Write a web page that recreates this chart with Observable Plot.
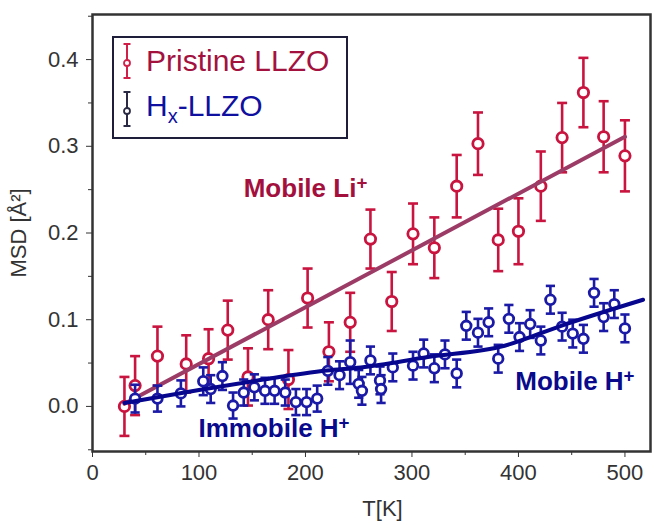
<!DOCTYPE html>
<html>
<head>
<meta charset="utf-8">
<script src="https://cdn.jsdelivr.net/npm/d3@7"></script>
<script src="https://cdn.jsdelivr.net/npm/@observablehq/plot@0.6"></script>
<style>
  body { margin: 0; background: #fff; }
  #wrap { position: relative; width: 652px; height: 521px; font-family: "Liberation Sans", Arial, sans-serif; }
  #legend { position: absolute; left: 112px; top: 36px; width: 236px; height: 103px; box-sizing: border-box;
            border: 2px solid #1e1e3a; background: #fff; }
  .lrow { position: absolute; left: 0; display: flex; align-items: center; }
  .lrow svg { margin-left: 6px; }
  .ltxt { font-size: 30px; margin-left: 12px; white-space: nowrap; }
</style>
</head>
<body>
<div id="wrap"></div>
<script>
// ---- data ----
const redT   = [30, 40, 61, 88, 109, 127, 146, 165, 184, 202, 222, 242, 261, 281, 301, 321, 342, 362, 381, 400, 421, 441, 461, 480, 500];
const redMSD = [0.000, 0.024, 0.058, 0.049, 0.055, 0.088, 0.034, 0.100, 0.031, 0.125, 0.063, 0.097, 0.193, 0.121, 0.199, 0.183, 0.254, 0.303, 0.192, 0.202, 0.254, 0.310, 0.362, 0.311, 0.289];
const redErr = [0.034, 0.034, 0.034, 0.033, 0.034, 0.034, 0.033, 0.034, 0.034, 0.034, 0.034, 0.034, 0.034, 0.034, 0.035, 0.035, 0.036, 0.036, 0.036, 0.038, 0.040, 0.040, 0.040, 0.041, 0.041];

const blueT   = [40, 61, 83, 104, 111, 122, 132, 142, 152, 162, 171, 181, 191, 201, 211, 221, 232, 242, 250, 253, 261, 270, 271, 282, 301, 311, 321, 331, 342, 351, 362, 372, 381, 391, 401, 411, 421, 430, 441, 451, 461, 471, 480, 490, 500];
const blueMSD = [0.009, 0.009, 0.015, 0.029, 0.020, 0.035, 0.001, 0.016, 0.022, 0.018, 0.018, 0.016, 0.005, 0.005, 0.009, 0.041, 0.036, 0.051, 0.026, 0.018, 0.053, 0.030, 0.020, 0.045, 0.047, 0.061, 0.044, 0.060, 0.038, 0.093, 0.085, 0.097, 0.055, 0.101, 0.080, 0.095, 0.076, 0.123, 0.092, 0.084, 0.078, 0.131, 0.103, 0.118, 0.090];
const blueErr = [0.016, 0.015, 0.015, 0.016, 0.016, 0.016, 0.015, 0.015, 0.015, 0.015, 0.015, 0.015, 0.015, 0.015, 0.015, 0.016, 0.016, 0.025, 0.016, 0.016, 0.016, 0.016, 0.016, 0.016, 0.016, 0.016, 0.016, 0.016, 0.016, 0.016, 0.016, 0.016, 0.016, 0.016, 0.016, 0.016, 0.016, 0.016, 0.016, 0.016, 0.016, 0.016, 0.016, 0.016, 0.016];

const redFitT   = [30, 500];
const redFitMSD = [0.003, 0.311];
const blueFitT   = [30, 100, 155, 220, 252, 315, 387, 440, 517];
const blueFitMSD = [0.004, 0.019, 0.030, 0.0415, 0.045, 0.057, 0.070, 0.093, 0.123];

const xMajor = [0, 100, 200, 300, 400, 500];
const xMinor = [50, 150, 250, 350, 450];
const yMajor = [0, 0.1, 0.2, 0.3, 0.4];
const yMinor = [-0.05, 0.05, 0.15, 0.25, 0.35, 0.45];

const annLabels = ["Mobile Li", "Immobile H", "Mobile H"];
const annT      = [142, 99.5, 397];
const annMSD    = [0.251, -0.026, 0.029];
const annColor  = ["#a3103e", "#0a0a8c", "#0a0a8c"];

// ---- build tables ----
const red = redT.map((t, i) => ({T: t, MSD: redMSD[i], lo: redMSD[i] - redErr[i], hi: redMSD[i] + redErr[i]}));
const blue = blueT.map((t, i) => ({T: t, MSD: blueMSD[i], lo: blueMSD[i] - blueErr[i], hi: blueMSD[i] + blueErr[i]}));
const redFit = redFitT.map((t, i) => ({T: t, MSD: redFitMSD[i]}));
const blueFit = blueFitT.map((t, i) => ({T: t, MSD: blueFitMSD[i]}));
const ann = annLabels.map((s, i) => ({text: s, T: annT[i], MSD: annMSD[i], color: annColor[i]}));

const cap = { draw(ctx, size) { const r = Math.sqrt(size / Math.PI); ctx.moveTo(-r, 0); ctx.lineTo(r, 0); } };

const RED = "#c8143f", BLUE = "#1a1aa6", REDFIT = "#9c3c66", BLUEFIT = "#06068e";

function errMarks(data, color, capR, dotR) {
  return [
    Plot.ruleX(data, {x: "T", y1: "lo", y2: "hi", stroke: color, strokeWidth: 2.6}),
    Plot.dot(data, {x: "T", y: "hi", symbol: cap, r: capR, stroke: color, strokeWidth: 2.6, fill: "none"}),
    Plot.dot(data, {x: "T", y: "lo", symbol: cap, r: capR, stroke: color, strokeWidth: 2.6, fill: "none"}),
    Plot.dot(data, {x: "T", y: "MSD", r: dotR, stroke: color, strokeWidth: 2.8, fill: "white"})
  ];
}

const chart = Plot.plot({
  width: 652, height: 521,
  marginLeft: 92, marginRight: 2, marginTop: 14, marginBottom: 70,
  style: {fontFamily: "'Liberation Sans', Arial, sans-serif", fontSize: "22px", color: "#333", background: "white"},
  x: {domain: [0, 524]},
  y: {domain: [-0.052, 0.452]},
  marks: [
    Plot.axisX({ticks: xMinor, tickSize: 4, tickFormat: () => "", label: null}),
    Plot.axisX({ticks: xMajor, tickSize: 6, tickPadding: 7, tickFormat: d3.format("d"), fontSize: 22, label: null}),
    Plot.axisY({ticks: yMinor, tickSize: 4, tickFormat: () => "", label: null}),
    Plot.axisY({ticks: yMajor, tickSize: 6, tickPadding: 8, tickFormat: d3.format(".1f"), fontSize: 22,
                label: "MSD [Å²]", labelAnchor: "center", labelOffset: 82, labelArrow: "none"}),
    Plot.text(["T[K]"], {frameAnchor: "bottom", dx: 11, dy: 64, fontSize: 22, fill: "#333"}),
    ...errMarks(red, RED, 5, 5.2),
    Plot.line(redFit, {x: "T", y: "MSD", stroke: REDFIT, strokeWidth: 4}),
    ...errMarks(blue, BLUE, 4.6, 4.8),
    Plot.line(blueFit, {x: "T", y: "MSD", stroke: BLUEFIT, strokeWidth: 4, curve: "monotone-x"}),
    Plot.text(ann, {x: "T", y: "MSD", text: "text", fill: "color", textAnchor: "start", fontSize: 26, fontWeight: "bold"}),
    Plot.frame({stroke: "#333", strokeWidth: 2.5})
  ]
});

// superscript "+" on the ion annotations
d3.select(chart).selectAll("text").filter(function() { return annLabels.includes(this.textContent); })
  .each(function() {
    d3.select(this).append("tspan").attr("dy", "-0.42em").attr("font-size", "0.72em").text("+");
  });

const wrap = document.getElementById("wrap");
wrap.appendChild(chart);

// legend (inside frame, top-left)
const legend = document.createElement("div");
legend.id = "legend";
function sym(color) {
  return `<svg width="14" height="38" viewBox="-7 -19 14 38">
    <line x1="0" y1="-17" x2="0" y2="17" stroke="${color}" stroke-width="2"/>
    <line x1="-3.5" y1="-17" x2="3.5" y2="-17" stroke="${color}" stroke-width="2"/>
    <line x1="-3.5" y1="17" x2="3.5" y2="17" stroke="${color}" stroke-width="2"/>
    <circle cx="0" cy="2" r="3" fill="white" stroke="${color}" stroke-width="1.8"/></svg>`;
}
legend.innerHTML = `
  <div class="lrow" style="top:4px">${sym("#d0204a")}<span class="ltxt" style="color:#a3123f">Pristine LLZO</span></div>
  <div class="lrow" style="top:51px">${sym("#2a2a44")}<span class="ltxt" style="color:#1010a0">H<sub style="font-size:20px;vertical-align:-7px">x</sub>-LLZO</span></div>`;
wrap.appendChild(legend);
</script>
</body>
</html>
